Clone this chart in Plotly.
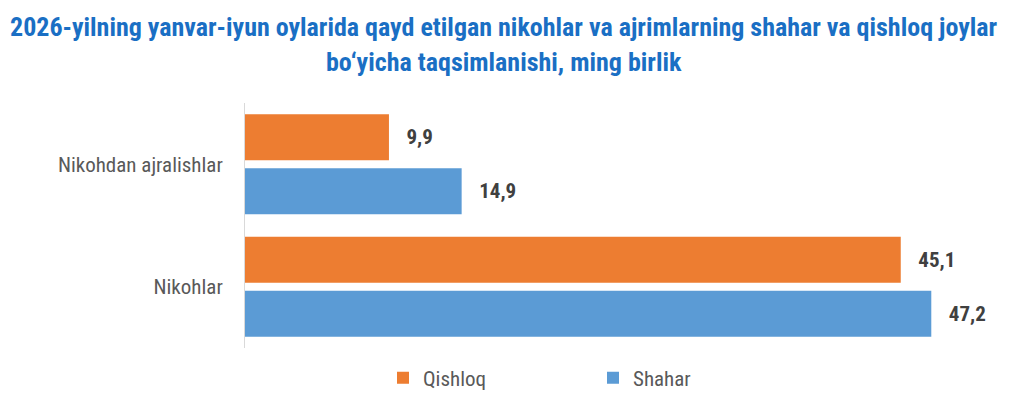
import plotly.graph_objects as go

categories = ["Nikohdan ajralishlar", "Nikohlar"]
series_names = ["Qishloq", "Shahar"]
qishloq = [9.9, 45.1]
shahar = [14.9, 47.2]
colors = ["#ED7D31", "#5B9BD5"]

title_lines = [
    "2026-yilning yanvar-iyun oylarida qayd etilgan nikohlar va ajrimlarning shahar va qishloq joylar",
    "bo\u2018yicha taqsimlanishi, ming birlik",
]

FONT = "Roboto Condensed, Liberation Sans Narrow, DejaVu Sans Condensed, Roboto, sans-serif"

def fmt(v):
    return "\u00a0\u00a0\u00a0" + f"{v:.1f}".replace(".", ",")

fig = go.Figure()
for name, vals, col in zip(series_names, [qishloq, shahar], colors):
    fig.add_trace(go.Bar(
        y=categories, x=vals, name=name, orientation="h",
        marker=dict(color=col, line=dict(width=0)),
        text=[fmt(v) for v in vals], textposition="outside",
        textfont=dict(family=FONT, size=21, color="#404040", weight="bold"),
        cliponaxis=False,
    ))

L, R, T, B = 245, 52, 103, 54
W, H = 1024, 402
pw = W - L - R
ph = H - T - B

for line, ypix in zip(title_lines, [27, 62]):
    fig.add_annotation(
        text=f"<b>{line}</b>", xref="paper", yref="paper",
        x=(503.5 - L) / pw, y=(H - B - ypix) / ph,
        xanchor="center", yanchor="middle", showarrow=False,
        font=dict(family=FONT, size=26, color="#1A6FC4"),
    )

fig.update_layout(
    width=W, height=H,
    margin=dict(l=L, r=R, t=T, b=B, autoexpand=False),
    paper_bgcolor="white", plot_bgcolor="white",
    barmode="group", bargap=0.118, bargroupgap=0.148,
    showlegend=True,
    legend=dict(orientation="h", xref="container", yref="container",
                x=383 / W, y=(H - 378) / H,
                xanchor="left", yanchor="middle",
                font=dict(family=FONT, size=21, color="#595959"),
                entrywidth=165, traceorder="normal"),
    xaxis=dict(range=[0, 50], showgrid=False, zeroline=False, showticklabels=False,
               showline=False, ticks=""),
    yaxis=dict(autorange="reversed", showline=True, linecolor="#D9D9D9", linewidth=1,
               ticks="", showgrid=False, ticklabelstandoff=17,
               tickfont=dict(family=FONT, size=21, color="#595959")),
)

fig.write_html("out.html")
